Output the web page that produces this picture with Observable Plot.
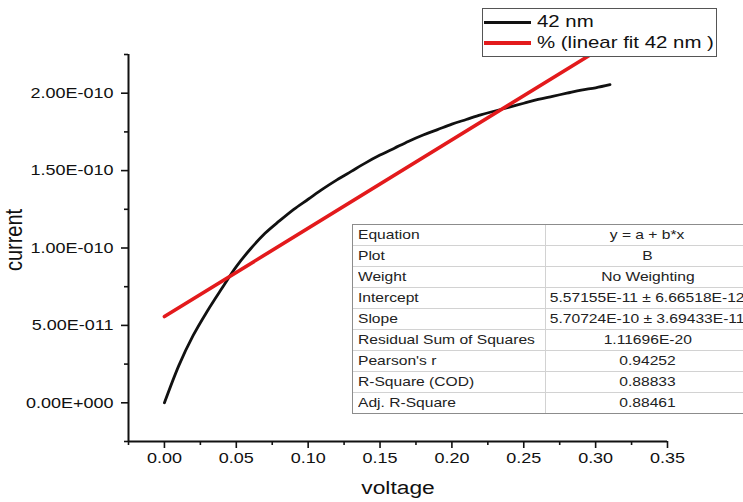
<!DOCTYPE html>
<html>
<head>
<meta charset="utf-8">
<script src="https://cdn.jsdelivr.net/npm/d3@7"></script>
<script src="https://cdn.jsdelivr.net/npm/@observablehq/plot@0.6"></script>
<style>
  body { margin: 0; background: #fff; font-family: "Liberation Sans", Arial, sans-serif; }
  #wrap { position: relative; width: 743px; height: 502px; overflow: hidden; background: #fff; }
  .stretch { display: inline-block; transform: scaleX(1.2); transform-origin: left center; white-space: nowrap; }
  .mid .stretch { transform-origin: center center; }
  #legend { position: absolute; left: 482px; top: 8px; width: 235px; height: 49px; box-sizing: border-box;
            border: 1px solid #555; background: #fff; }
  .lrow { position: absolute; left: 1px; height: 20px; display: flex; align-items: center; }
  .swatch { width: 47px; }
  .ltext { font-size: 17px; color: #111; margin-left: 6px; }
  #fit { position: absolute; left: 352px; top: 224px; width: 398px; box-sizing: border-box;
         border: 1px solid #8c8c8c; background: #fff; color: #222; font-size: 13px; }
  .frow { display: flex; height: 21px; box-sizing: border-box; border-top: 1px solid #d2d2d2; }
  .frow:first-child { border-top: none; height: 20px; }
  .fc1 { width: 193px; box-sizing: border-box; border-right: 1px solid #d2d2d2; padding-left: 5px; line-height: 20px; }
  .fc2 { flex: 1; text-align: center; line-height: 20px; white-space: nowrap; }
</style>
</head>
<body>
<div id="wrap">
  <div id="chart"></div>
  <div id="legend"></div>
  <div id="fit"></div>
</div>
<script>
// Measured I–V curve of the 42 nm sample
const voltage = [0.00, 0.01, 0.02, 0.03, 0.04, 0.05, 0.06, 0.07, 0.08, 0.09,
                 0.10, 0.11, 0.12, 0.13, 0.14, 0.15, 0.16, 0.17, 0.18, 0.19,
                 0.20, 0.21, 0.22, 0.23, 0.24, 0.25, 0.26, 0.27, 0.28, 0.29,
                 0.30, 0.31];
const current = [0, 2.40e-11, 4.35e-11, 5.95e-11, 7.40e-11, 8.80e-11, 9.95e-11, 1.095e-10, 1.175e-10, 1.250e-10,
                 1.315e-10, 1.380e-10, 1.440e-10, 1.495e-10, 1.550e-10, 1.600e-10, 1.645e-10, 1.690e-10, 1.730e-10, 1.765e-10,
                 1.800e-10, 1.830e-10, 1.860e-10, 1.885e-10, 1.910e-10, 1.935e-10, 1.960e-10, 1.980e-10, 2.000e-10, 2.020e-10,
                 2.035e-10, 2.055e-10];

// Linear fit results
const fitIntercept = 5.57155e-11;
const fitSlope = 5.70724e-10;
const fitLabels = ["Equation", "Plot", "Weight", "Intercept", "Slope", "Residual Sum of Squares",
                   "Pearson's r", "R-Square (COD)", "Adj. R-Square"];
const fitValues = ["y = a + b*x", "B", "No Weighting", "5.57155E-11 \u00b1 6.66518E-12",
                   "5.70724E-10 \u00b1 3.69433E-11", "1.11696E-20", "0.94252", "0.88833", "0.88461"];

// Series names and colours
const seriesNames = ["42 nm", "% (linear fit 42 nm )"];
const seriesColors = ["#111111", "#e31a1c"];

// Axes
const xDomain = [-0.025, 0.35];
const yDomain = [-2.5e-11, 2.25e-10];
const xTicks = [0, 0.05, 0.10, 0.15, 0.20, 0.25, 0.30, 0.35];
const xTickLabels = ["0.00", "0.05", "0.10", "0.15", "0.20", "0.25", "0.30", "0.35"];
const xMinorTicks = [-0.025, 0.025, 0.075, 0.125, 0.175, 0.225, 0.275, 0.325];
const yTicks = [0, 5e-11, 1e-10, 1.5e-10, 2e-10];
const yTickLabels = ["0.00E+000", "5.00E-011", "1.00E-010", "1.50E-010", "2.00E-010"];
const yMinorTicks = [-2.5e-11, 2.5e-11, 7.5e-11, 1.25e-10, 1.75e-10, 2.25e-10];

const measured = voltage.map((v, i) => ({v, c: current[i]}));
const fitEnds = [voltage[0], voltage[voltage.length - 1]];
const fitted = fitEnds.map(v => ({v, c: fitIntercept + fitSlope * v}));

const font = '"Liberation Sans", Arial, sans-serif';

const chart = Plot.plot({
  width: 743,
  height: 502,
  marginLeft: 128,
  marginRight: 76,
  marginTop: 54,
  marginBottom: 61,
  style: {fontFamily: font, fontSize: "15px", color: "#111", background: "transparent"},
  x: {domain: xDomain},
  y: {domain: yDomain},
  marks: [
    Plot.ruleX([xDomain[0]], {stroke: "#111", strokeWidth: 2}),
    Plot.ruleY([yDomain[0]], {stroke: "#111", strokeWidth: 2}),
    Plot.axisX({ticks: xTicks, tickFormat: d => xTickLabels[xTicks.indexOf(d)], tickSize: 7, tickPadding: 4,
                strokeWidth: 1.6, label: null, fontSize: 15, fill: "#111"}),
    Plot.axisX({ticks: xMinorTicks, tickFormat: () => "", tickSize: 4, strokeWidth: 1.6, label: null}),
    Plot.axisY({ticks: yTicks, tickFormat: d => yTickLabels[yTicks.indexOf(d)], tickSize: 7, tickPadding: 8,
                strokeWidth: 1.6, label: null, fontSize: 15, fill: "#111"}),
    Plot.axisY({ticks: yMinorTicks, tickFormat: () => "", tickSize: 4, strokeWidth: 1.6, label: null}),
    Plot.text(["voltage"], {frameAnchor: "bottom", dy: 52, fontSize: 19, fill: "#111"}),
    Plot.text(["current"], {frameAnchor: "left", textAnchor: "middle", dx: -114, dy: -8, rotate: -90,
                            fontSize: 20, fill: "#111"}),
    Plot.line(measured, {x: "v", y: "c", stroke: seriesColors[0], strokeWidth: 2.8, curve: "monotone-x"}),
    Plot.line(fitted, {x: "v", y: "c", stroke: seriesColors[1], strokeWidth: 3.6})
  ]
});

// Widen the lettering horizontally (type set 1.2x wide)
const isNumber = v => v != null && /^\s*-?[\d.]+(e[-+]?\d+)?\s*$/i.test(v);
chart.querySelectorAll("text").forEach(t => {
  const tr = t.getAttribute("transform") || "";
  let x = 0, y = 0;
  if (isNumber(t.getAttribute("x"))) { x = +t.getAttribute("x"); t.removeAttribute("x"); }
  if (isNumber(t.getAttribute("y"))) { y = +t.getAttribute("y"); t.removeAttribute("y"); }
  const rotated = /rotate\(\s*-?90/.test(tr);
  const s = rotated ? "scale(1,1.2)" : "scale(1.2,1)";
  t.setAttribute("transform", `${tr} translate(${x},${y}) ${s}`.trim());
});

document.getElementById("chart").appendChild(chart);

// Legend
const legend = document.getElementById("legend");
seriesNames.forEach((name, i) => {
  const row = document.createElement("div");
  row.className = "lrow";
  row.style.top = (3 + i * 21) + "px";
  const sw = document.createElement("div");
  sw.className = "swatch";
  sw.style.height = i === 0 ? "3px" : "4px";
  sw.style.background = seriesColors[i];
  const tx = document.createElement("div");
  tx.className = "ltext";
  tx.innerHTML = `<span class="stretch"></span>`;
  tx.firstChild.textContent = name;
  row.appendChild(sw);
  row.appendChild(tx);
  legend.appendChild(row);
});

// Fit-parameter table
const fit = document.getElementById("fit");
fitLabels.forEach((label, i) => {
  const row = document.createElement("div");
  row.className = "frow";
  const c1 = document.createElement("div");
  c1.className = "fc1";
  c1.innerHTML = `<span class="stretch"></span>`;
  c1.firstChild.textContent = label;
  const c2 = document.createElement("div");
  c2.className = "fc2 mid";
  c2.innerHTML = `<span class="stretch"></span>`;
  c2.firstChild.textContent = fitValues[i];
  row.appendChild(c1);
  row.appendChild(c2);
  fit.appendChild(row);
});
</script>
</body>
</html>
